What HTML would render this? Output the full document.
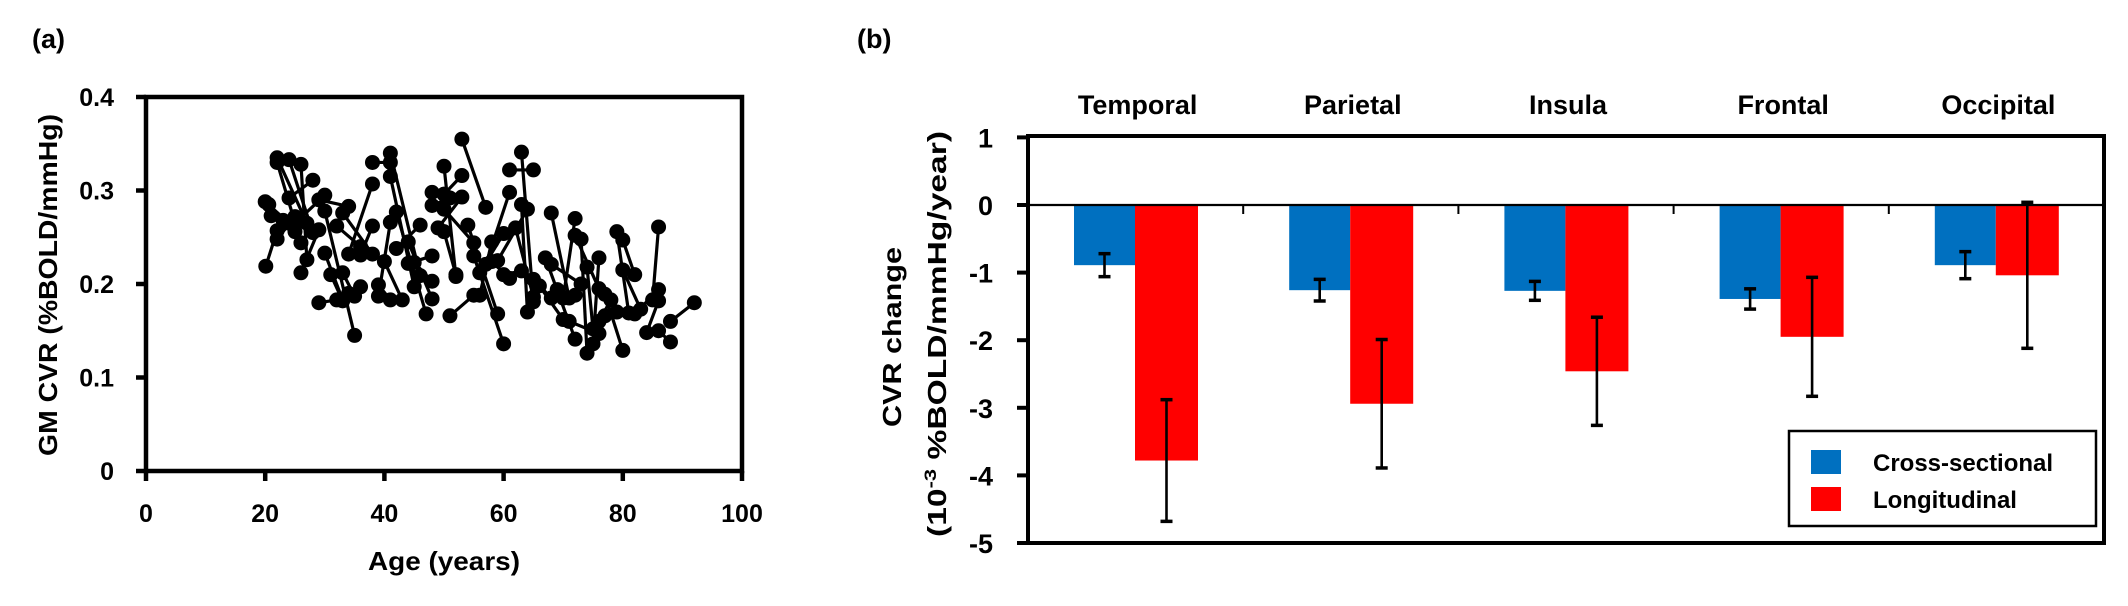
<!DOCTYPE html>
<html><head><meta charset="utf-8">
<style>
html,body{margin:0;padding:0;background:#fff;}
svg{display:block;font-family:"Liberation Sans",Arial,sans-serif;font-weight:bold;}
</style></head>
<body>
<svg id="fig" width="2128" height="606" viewBox="0 0 2128 606" xmlns="http://www.w3.org/2000/svg">
  <text x="32" y="48" font-size="27">(a)</text>
  <text x="857" y="48" font-size="27">(b)</text>
  <g id="pa"></g>
  <g id="pb"></g>
</svg>
<script>
// ---------- Panel (a) data ----------
const ageTicks = [0, 20, 40, 60, 80, 100];
const cvrTicks = [0, 0.1, 0.2, 0.3, 0.4];
const cvrTickLabels = ["0", "0.1", "0.2", "0.3", "0.4"];
const age1 = [20.1,20,20.6,21,22,22,24,26,24,22,26,25,29,30,30,29,31,33,32,34,33,34,36,38,41,41,42,39,39,40,42,44,44,45,48,48,49,50,50,50,51,53,53,54,55,56,56,57,58,61,63,62,63,63,64,65,66,68,67,68,72,72,73,74,76,71,77,79,80,80,77,84,86,86,88,86,78,72];
const cvr1 = [0.219,0.288,0.285,0.273,0.335,0.330,0.333,0.328,0.292,0.248,0.212,0.265,0.290,0.278,0.233,0.180,0.210,0.276,0.262,0.232,0.212,0.190,0.231,0.330,0.340,0.315,0.277,0.187,0.199,0.224,0.238,0.245,0.222,0.223,0.298,0.284,0.260,0.256,0.326,0.280,0.166,0.355,0.316,0.263,0.230,0.188,0.212,0.221,0.224,0.322,0.341,0.260,0.285,0.214,0.280,0.205,0.198,0.276,0.228,0.221,0.270,0.252,0.248,0.218,0.228,0.160,0.189,0.256,0.247,0.215,0.166,0.148,0.261,0.194,0.160,0.150,0.183,0.188];
const age2 = [22,24,23,25,27,26,28,27,28,25,29,30,34,35,33,32,33,38,36,38,35,36,38,41,46,45,47,41,41,43,46,48,48,48,50,51,53,52,52,55,55,57,50,59,60,58,60,61,61,65,65,65,64,60,59,68,70,71,72,73,70,76,74,75,75,76,80,81,82,83,79,86,85,82,92,88,76,69];
const cvr2 = [0.257,0.265,0.268,0.256,0.265,0.244,0.255,0.226,0.311,0.272,0.258,0.295,0.283,0.145,0.183,0.183,0.182,0.232,0.240,0.307,0.187,0.197,0.262,0.330,0.209,0.197,0.168,0.266,0.183,0.183,0.263,0.184,0.230,0.203,0.296,0.292,0.293,0.210,0.208,0.244,0.188,0.282,0.296,0.168,0.136,0.245,0.254,0.298,0.206,0.322,0.181,0.186,0.170,0.210,0.225,0.185,0.162,0.185,0.141,0.200,0.185,0.195,0.126,0.152,0.136,0.147,0.129,0.169,0.210,0.173,0.170,0.182,0.183,0.168,0.180,0.138,0.160,0.194];

// ---------- Panel (b) data ----------
const regions = ["Temporal", "Parietal", "Insula", "Frontal", "Occipital"];
const crossVals = [-0.89, -1.26, -1.27, -1.39, -0.89];
const crossErr = [0.17, 0.16, 0.14, 0.15, 0.2];
const longVals = [-3.78, -2.94, -2.46, -1.95, -1.04];
const longErr = [0.9, 0.95, 0.8, 0.88, 1.08];
const bTicks = [1, 0, -1, -2, -3, -4, -5];
const seriesNames = ["Cross-sectional", "Longitudinal"];

const NS = "http://www.w3.org/2000/svg";
function mk(parent, tag, attrs, text) {
  const e = document.createElementNS(NS, tag);
  for (const k in attrs) e.setAttribute(k, attrs[k]);
  if (text !== undefined) e.textContent = text;
  parent.appendChild(e);
  return e;
}

// ---------- Panel (a) ----------
const pa = document.getElementById("pa");
const aL = 146, aR = 742, aT = 97, aB = 471;
const ax = v => aL + (v - 0) / 100 * (aR - aL);
const ay = v => aB - v / 0.4 * (aB - aT);

for (let i = 0; i < age1.length; i++) {
  const g = mk(pa, "g", {});
  
  
  const ln = mk(g, "line", {x1: ax(age1[i]), y1: ay(cvr1[i]), x2: ax(age2[i]), y2: ay(cvr2[i]), stroke: "#000", "stroke-width": 3.2});
  
  
  const c1 = mk(g, "circle", {cx: ax(age1[i]), cy: ay(cvr1[i]), r: 7.5, fill: "#000"});
  
  
  const c2 = mk(g, "circle", {cx: ax(age2[i]), cy: ay(cvr2[i]), r: 7.5, fill: "#000"});
  
  
}
const boxA = mk(pa, "rect", {x: aL, y: aT, width: aR - aL, height: aB - aT, fill: "none", stroke: "#000", "stroke-width": 4.5});


cvrTicks.forEach((t, i) => {
  const tk = mk(pa, "line", {x1: aL - 10, x2: aL, y1: ay(t), y2: ay(t), stroke: "#000", "stroke-width": 4.5});
  
  
  const lb = mk(pa, "text", {x: aL - 32, y: ay(t) + 9, "font-size": 25, "text-anchor": "end"}, cvrTickLabels[i]);
  
  
});
ageTicks.forEach(t => {
  const tk = mk(pa, "line", {x1: ax(t), x2: ax(t), y1: aB, y2: aB + 10, stroke: "#000", "stroke-width": 4.5});
  
  
  const lb = mk(pa, "text", {x: ax(t), y: 522, "font-size": 25, "text-anchor": "middle"}, String(t));
  
  
});
const xta = mk(pa, "text", {x: 444, y: 570, "font-size": 26, "text-anchor": "middle", textLength: 152, lengthAdjust: "spacingAndGlyphs"}, "Age (years)");


const yta = mk(pa, "text", {x: 0, y: 0, "font-size": 26, "text-anchor": "middle", textLength: 342, lengthAdjust: "spacingAndGlyphs", transform: "translate(57,285) rotate(-90)"}, "GM CVR (%BOLD/mmHg)");



// ---------- Panel (b) ----------
const pb = document.getElementById("pb");
const bL = 1028, bR = 2104, bT = 136, bB = 543;
const by = v => 205 - v * (543 - 205) / 5;
const gw = (bR - bL) / regions.length;
const gx = i => bL + i * gw;

regions.forEach((r, i) => {
  const lb = mk(pb, "text", {x: gx(i) + gw / 2 + 2, y: 114, "font-size": 27, "text-anchor": "middle"}, r);
  
  
  const b1 = mk(pb, "rect", {x: gx(i) + 46, y: by(0), width: 61, height: by(crossVals[i]) - by(0), fill: "#0070C0"});
  
  
  const b2 = mk(pb, "rect", {x: gx(i) + 107, y: by(0), width: 63, height: by(longVals[i]) - by(0), fill: "#FF0000"});
  
  
  [[gx(i) + 76.5, crossVals[i], crossErr[i]], [gx(i) + 138.5, longVals[i], longErr[i]]].forEach(([cx, v, e]) => {
    const eg = mk(pb, "g", {});
    
    
    mk(eg, "line", {x1: cx, x2: cx, y1: by(v + e), y2: by(v - e), stroke: "#000", "stroke-width": 2.6});
    mk(eg, "line", {x1: cx - 6, x2: cx + 6, y1: by(v + e), y2: by(v + e), stroke: "#000", "stroke-width": 3.5});
    mk(eg, "line", {x1: cx - 6, x2: cx + 6, y1: by(v - e), y2: by(v - e), stroke: "#000", "stroke-width": 3.5});
  });
  if (i > 0) {
    const st = mk(pb, "line", {x1: gx(i), x2: gx(i), y1: by(0), y2: by(0) + 9, stroke: "#000", "stroke-width": 2});
    
    
  }
});
const zl = mk(pb, "line", {x1: bL, x2: bR, y1: by(0), y2: by(0), stroke: "#000", "stroke-width": 2.2});


const boxB = mk(pb, "rect", {x: bL, y: bT, width: bR - bL, height: bB - bT, fill: "none", stroke: "#000", "stroke-width": 4});


bTicks.forEach(t => {
  const tk = mk(pb, "line", {x1: bL - 11, x2: bL, y1: by(t), y2: by(t), stroke: "#000", "stroke-width": 4});
  
  
  const lb = mk(pb, "text", {x: 993, y: by(t) + 10, "font-size": 27, "text-anchor": "end"}, String(t));
  
  
});
const yt1 = mk(pb, "text", {x: 0, y: 0, "font-size": 26, "text-anchor": "middle", textLength: 180, lengthAdjust: "spacingAndGlyphs", transform: "translate(901,337) rotate(-90)"}, "CVR change");


const yt2 = mk(pb, "text", {x: 0, y: 0, "font-size": 26, "text-anchor": "middle", textLength: 406, lengthAdjust: "spacingAndGlyphs", transform: "translate(946,334) rotate(-90)"});


mk(yt2, "tspan", {}, "(10");
mk(yt2, "tspan", {"font-size": 17, dy: -10}, "-3");
mk(yt2, "tspan", {dy: 10}, " %BOLD/mmHg/year)");

// legend
const lg = mk(pb, "g", {});


mk(lg, "rect", {x: 1789, y: 431, width: 307, height: 95, fill: "#fff", stroke: "#000", "stroke-width": 2.5});
const colors = ["#0070C0", "#FF0000"];
seriesNames.forEach((s, i) => {
  const le = mk(lg, "g", {});
  
  
  mk(le, "rect", {x: 1811, y: 450 + i * 37, width: 30, height: 24, fill: colors[i]});
  mk(le, "text", {x: 1873, y: 471 + i * 37, "font-size": 24}, s);
});
</script>
</body></html>
